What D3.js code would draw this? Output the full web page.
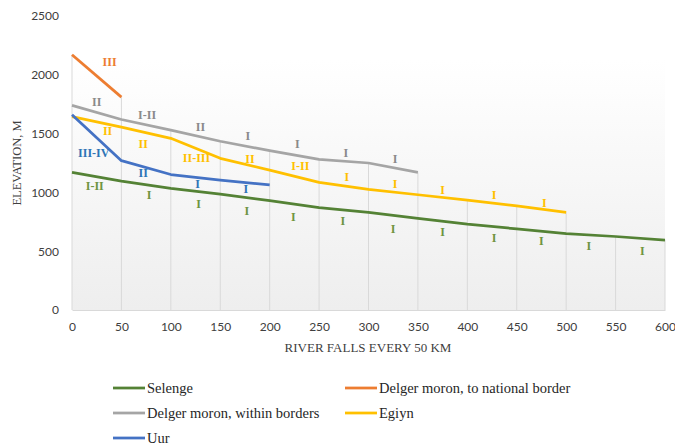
<!DOCTYPE html>
<html><head><meta charset="utf-8">
<script src="https://cdn.jsdelivr.net/npm/d3@7"></script>
<style>body{margin:0;background:#fff}svg{display:block}</style>
</head><body>
<script>
// ---- data ----
const distances = [0,50,100,150,200,250,300,350,400,450,500,550,600];
const xTicks = [0,50,100,150,200,250,300,350,400,450,500,550,600];
const yTicks = [0,500,1000,1500,2000,2500];
const seriesNames = ["Selenge","Delger moron, to national border","Delger moron, within borders","Egiyn","Uur"];
const selenge = [1170,1095,1035,985,930,870,830,780,730,690,650,625,595];
const delgerBorder = [2170,1810];
const delgerWithin = [1740,1620,1530,1435,1355,1280,1250,1170];
const egiyn = [1645,1555,1460,1290,1190,1085,1025,980,935,885,830];
const uur = [1660,1270,1152,1105,1063];
// category labels: [km, elevation, text]
const selengeLabels = [[23,1059,"I-II"],[78,983,"I"],[128,900,"I"],[177,844,"I"],[224,793,"I"],[274,759,"I"],[325,694,"I"],[375,669,"I"],[427,618,"I"],[475,586,"I"],[523,544,"I"],[577,504,"I"]];
const delgerBorderLabels = [[38,2109,"III"]];
const delgerWithinLabels = [[25,1769,"II"],[76,1656,"I-II"],[130,1557,"II"],[178,1478,"I"],[228,1410,"I"],[277,1336,"I"],[327,1289,"I"]];
const egiynLabels = [[36,1521,"II"],[72,1410,"II"],[126,1291,"II-III"],[180,1289,"II"],[231,1223,"I-II"],[278,1132,"I"],[327,1070,"I"],[375,1024,"I"],[427,977,"I"],[478,915,"I"]];
const uurLabels = [[22,1336,"III-IV"],[72,1166,"II"],[127,1070,"I"],[176,1030,"I"]];

const lineColors = ["#548235","#ed7d31","#a5a5a5","#ffc000","#4472c4"];
const labelColors = ["#6f9440","#ed7d31","#8a8a8a","#ffc000","#2e75b6"];
const seriesValues = [selenge, delgerBorder, delgerWithin, egiyn, uur];
const seriesLabels = [selengeLabels, delgerBorderLabels, delgerWithinLabels, egiynLabels, uurLabels];

// ---- chart ----
const W = 675, H = 445;
const m = {left:72, right:10, top:16, bottom:135};
const svg = d3.select("body").append("svg").attr("width",W).attr("height",H);
const x = d3.scaleLinear().domain([0,600]).range([m.left, W - m.right]);
const y = d3.scaleLinear().domain([0,2500]).range([H - m.bottom, m.top]);

const defs = svg.append("defs");
const grad = defs.append("linearGradient").attr("id","bg").attr("x1",0).attr("y1",0).attr("x2",0).attr("y2",1);
grad.append("stop").attr("offset","0%").attr("stop-color","#ffffff");
grad.append("stop").attr("offset","15%").attr("stop-color","#ffffff");
grad.append("stop").attr("offset","100%").attr("stop-color","#eeeeee");
svg.append("rect").attr("x",x(0)).attr("y",y(2500)).attr("width",x(600)-x(0)).attr("height",y(0)-y(2500)).attr("fill","url(#bg)");

// drop lines from highest series at each distance
const maxAt = distances.map((d,i)=>d3.max(seriesValues, s => s[i]));
svg.append("g").selectAll("line").data(distances).join("line")
  .attr("x1",d=>x(d)).attr("x2",d=>x(d))
  .attr("y1",(d,i)=>y(maxAt[i])).attr("y2",y(0))
  .attr("stroke","#d9d9d9").attr("stroke-width",1);

// axes
const xAxis = svg.append("g").attr("transform",`translate(0,${y(0)})`)
  .call(d3.axisBottom(x).tickValues(xTicks).tickSize(0).tickPadding(12).tickFormat(d3.format("d")));
xAxis.select(".domain").attr("stroke","#d9d9d9");
const yAxis = svg.append("g").attr("transform",`translate(${x(0)},0)`)
  .call(d3.axisLeft(y).tickValues(yTicks).tickSize(0).tickPadding(13).tickFormat(d3.format("d")));
yAxis.select(".domain").remove();
svg.selectAll(".tick text").attr("font-family","Lato, 'Open Sans', sans-serif").attr("font-size","12px").attr("fill","#404040");

svg.append("text").attr("x",368).attr("y",352).attr("text-anchor","middle")
  .attr("font-family","'Liberation Serif', serif").attr("font-size","13px").attr("fill","#404040")
  .text("RIVER FALLS EVERY 50 KM");
svg.append("text").attr("transform","translate(21,163) rotate(-90)").attr("text-anchor","middle")
  .attr("font-family","'Liberation Serif', serif").attr("font-size","12.5px").attr("fill","#404040")
  .text("ELEVATION, M");

// lines
const line = d3.line().x((d,i)=>x(distances[i])).y(d=>y(d));
svg.append("g").selectAll("path").data(seriesValues).join("path")
  .attr("d",line).attr("fill","none")
  .attr("stroke",(d,i)=>lineColors[i]).attr("stroke-width",2.75).attr("stroke-linejoin","round");

// labels
seriesLabels.forEach((labs,i)=>{
  svg.append("g").selectAll("text").data(labs).join("text")
    .attr("x",d=>x(d[0])).attr("y",d=>y(d[1])).attr("dy","0.35em")
    .attr("text-anchor","middle")
    .attr("font-family","'Liberation Serif', serif").attr("font-weight","bold").attr("font-size","12px")
    .attr("fill",labelColors[i]).text(d=>d[2]);
});

// legend
const legPos = [[113,388],[345,388],[113,413],[345,413],[113,438]];
const leg = svg.append("g").selectAll("g").data(seriesNames).join("g")
  .attr("transform",(d,i)=>`translate(${legPos[i][0]},${legPos[i][1]})`);
leg.append("line").attr("x1",0).attr("x2",32).attr("y1",0).attr("y2",0)
  .attr("stroke",(d,i)=>lineColors[i]).attr("stroke-width",2.75);
leg.append("text").attr("x",34).attr("dy","0.35em")
  .attr("font-family","'Liberation Serif', serif").attr("font-size","14.5px").attr("fill","#262626")
  .text(d=>d);
</script>
</body></html>
